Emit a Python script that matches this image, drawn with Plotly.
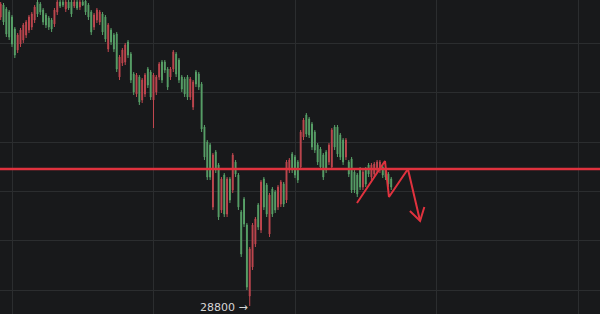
import plotly.graph_objects as go

# Candle data (index = bar number), prices
open_ = [29956,30004,29988,29976,29956,29908,29824,29848,29864,29884,29904,29916,29944,30016,30008,29984,29964,29952,29944,29928,
         29976,30016,30016,29988,30016,30016,30000,30016,29996,30016,30020,30004,29976,29916,29944,29936,29968,29956,29828,29904,
         29884,29888,29716,29772,29776,29856,29808,29728,29648,29716,29624,29648,29748,29736,29624,29656,29716,29776,29776,29748,
         29716,29748,29808,29784,29716,29708,29716,29636,29596,29736,29728,29688,29516,29456,29444,29196,29416,29364,29184,29324,
         29168,29308,29264,29376,29324,29176,29228,29124,28840,28956,29048,29204,29104,29308,29284,29088,29268,29256,29196,29208,
         29288,29224,29344,29408,29396,29376,29356,29476,29564,29548,29528,29496,29444,29428,29404,29416,29376,29356,29516,29516,
         29484,29464,29396,29376,29388,29336,29324,29348,29276,29348,29364,29316,29328,29344,29344,29356,29348,29328,29308]
high = [30016,30012,29996,29984,29964,29916,29892,29912,29932,29944,29964,29976,30004,30040,30016,29992,29972,29960,29952,29992,
        30040,30040,30040,30040,30040,30040,30040,30040,30040,30040,30040,30012,29984,29972,29992,29984,29976,29964,29932,29912,
        29892,29896,29804,29832,29852,29864,29816,29736,29732,29724,29712,29732,29756,29744,29732,29724,29776,29784,29784,29756,
        29756,29824,29816,29792,29724,29716,29724,29716,29704,29744,29736,29696,29524,29464,29452,29412,29424,29372,29316,29332,
        29316,29316,29412,29384,29332,29184,29236,29132,29036,29132,29156,29212,29304,29316,29292,29252,29276,29264,29284,29304,
        29296,29384,29392,29416,29404,29384,29504,29552,29572,29556,29536,29504,29452,29436,29412,29424,29452,29512,29524,29524,
        29492,29472,29472,29384,29396,29344,29332,29356,29344,29356,29372,29372,29376,29384,29384,29364,29356,29336,29316]
low = [29944,29924,29876,29864,29836,29792,29812,29836,29852,29872,29892,29904,29932,29956,29964,29924,29912,29904,29896,29916,
       29964,29992,29996,29976,29984,29956,29992,29984,29984,30000,29964,29944,29884,29904,29932,29924,29884,29856,29816,29844,
       29816,29736,29704,29760,29764,29792,29692,29644,29636,29604,29612,29636,29672,29624,29512,29644,29704,29692,29732,29664,
       29704,29736,29716,29692,29656,29636,29624,29624,29584,29676,29664,29496,29384,29304,29304,29184,29332,29144,29172,29156,
       29156,29212,29252,29316,29184,28996,29116,28864,28800,28944,29036,29104,29092,29184,29156,29076,29156,29172,29184,29196,
       29196,29212,29332,29332,29312,29292,29344,29464,29476,29472,29424,29412,29364,29344,29304,29332,29364,29344,29424,29396,
       29384,29364,29384,29316,29252,29252,29236,29264,29264,29276,29316,29304,29316,29332,29332,29312,29304,29276,29264]
close = [30008,29936,29888,29876,29848,29804,29884,29904,29924,29936,29956,29968,29996,29968,29976,29936,29924,29916,29908,29984,
         30016,30000,30004,30016,29992,29968,30016,29992,30016,30004,29976,29956,29896,29964,29984,29976,29896,29868,29924,29856,
         29828,29748,29796,29824,29844,29804,29704,29656,29724,29616,29704,29724,29684,29636,29724,29716,29768,29704,29744,29676,
         29748,29816,29728,29704,29668,29648,29636,29708,29696,29688,29676,29508,29396,29316,29316,29404,29344,29156,29308,29168,
         29308,29224,29404,29328,29196,29008,29128,28876,29028,29124,29148,29116,29296,29196,29168,29244,29168,29184,29276,29296,
         29208,29376,29384,29344,29324,29304,29496,29544,29488,29484,29436,29424,29376,29356,29316,29344,29444,29504,29436,29408,
         29396,29376,29464,29328,29264,29264,29248,29276,29336,29288,29328,29364,29368,29376,29376,29324,29316,29288,29276]
bars = list(range(len(open_)))

level_price = 29348
low_label = "28800 →"
low_bar = 88
low_price = 28800

# hand-drawn zigzag (bar index, price)
zig_x = [125.9, 135.8, 137.2, 143.9, 148.2]
zig_y = [29212, 29380, 29236, 29348, 29140]
head_l = (144.6, 29180)
head_r = (149.7, 29196)

BG = "#18191b"
GRID = "#2b2d2f"
RED = "#c0474f"
GREEN = "#58a168"
LINE_RED = "#e0323e"

fig = go.Figure()
fig.add_trace(go.Candlestick(
    x=bars, open=open_, high=high, low=low, close=close,
    increasing=dict(line=dict(color=RED, width=1), fillcolor=RED),
    decreasing=dict(line=dict(color=GREEN, width=1), fillcolor=GREEN),
    whiskerwidth=0, showlegend=False, hoverinfo="skip"))

fig.add_hline(y=level_price, line=dict(color=LINE_RED, width=2.5))

zx = zig_x
zy = zig_y
fig.add_trace(go.Scatter(x=zx, y=zy, mode="lines", line=dict(color=LINE_RED, width=2),
                         showlegend=False, hoverinfo="skip"))
fig.add_trace(go.Scatter(x=[head_l[0], zx[-1], head_r[0]], y=[head_l[1], zy[-1], head_r[1]],
                         mode="lines", line=dict(color=LINE_RED, width=2),
                         showlegend=False, hoverinfo="skip"))

fig.add_annotation(x=low_bar, y=low_price, text=low_label, showarrow=False,
                   xanchor="right", yanchor="middle", xshift=0, yshift=-1,
                   font=dict(family="DejaVu Sans, sans-serif", size=11, color="#d6d6d6"))

fig.update_layout(
    width=600, height=314, margin=dict(l=0, r=0, t=0, b=0),
    paper_bgcolor=BG, plot_bgcolor=BG, showlegend=False, boxgap=0.55,
    xaxis=dict(range=[-0.24, 211.77], showticklabels=False, zeroline=False,
               showgrid=True, gridcolor=GRID, gridwidth=1, tick0=4, dtick=50,
               rangeslider=dict(visible=False), fixedrange=True),
    yaxis=dict(range=[28768, 30024], showticklabels=False, zeroline=False,
               showgrid=True, gridcolor=GRID, gridwidth=1, tick0=28864, dtick=197.2,
               fixedrange=True),
)
fig.write_html("out.html", config={"displayModeBar": False})
